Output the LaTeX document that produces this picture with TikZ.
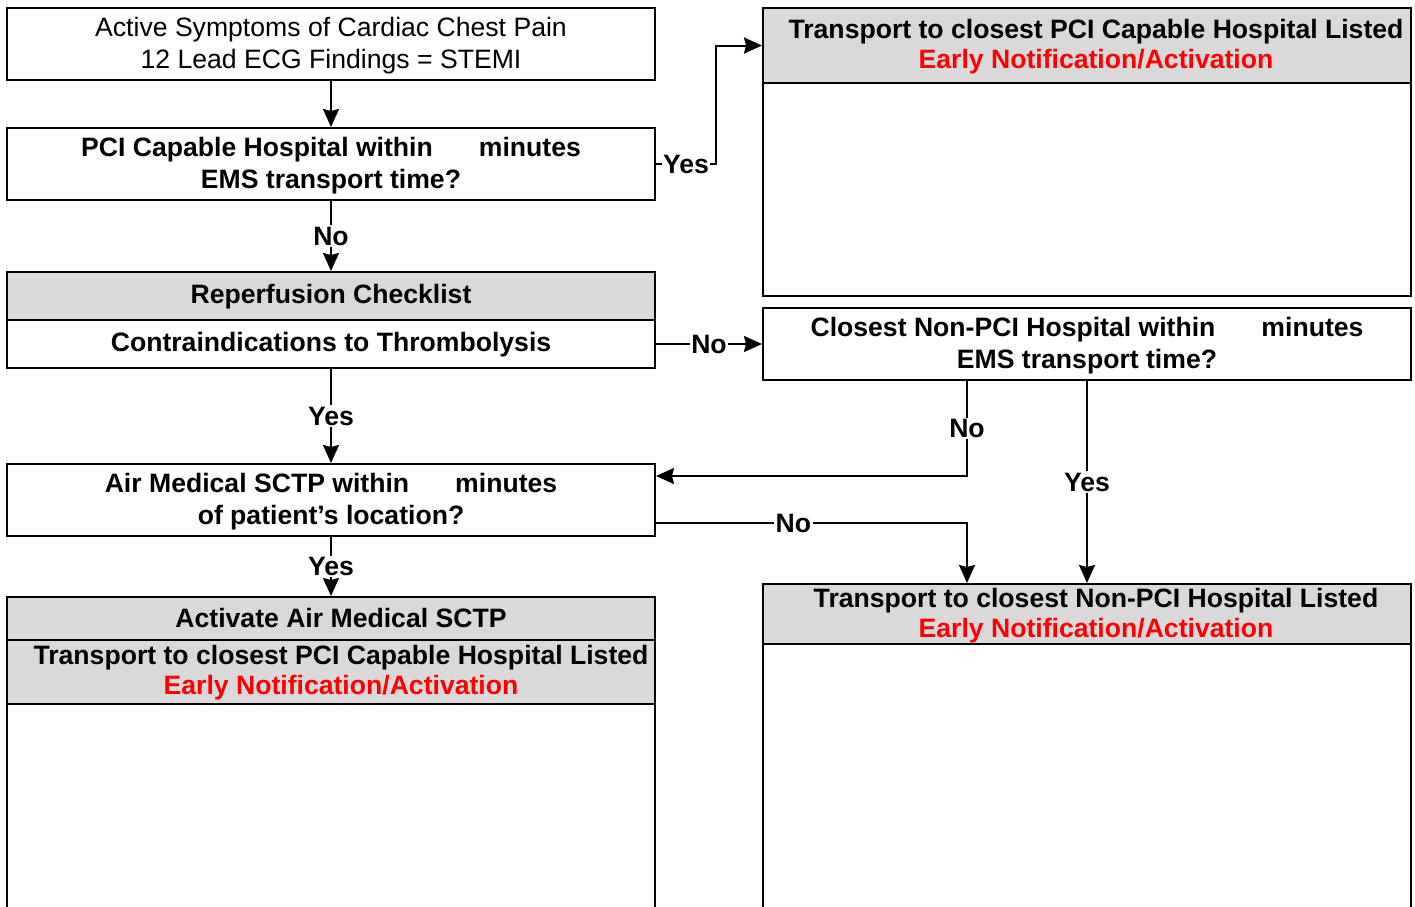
\documentclass[tikz,border=0pt]{standalone}
\usepackage{fontspec}
\setmainfont{Liberation Sans}
\usetikzlibrary{arrows.meta}
\definecolor{hdrgray}{HTML}{D9D9D9}
\definecolor{alertred}{HTML}{FF0000}
\begin{document}
\begin{tikzpicture}[x=1pt,y=-1pt,
  boxbase/.style={draw,line width=2pt,minimum width=648pt,inner sep=0pt},
  hdrbox/.style={boxbase,fill=hdrgray},
  bodybox/.style={boxbase,fill=white},
  plaintxt/.style={inner sep=0pt,align=center,font=\fontsize{26.6}{32}\selectfont},
  boldtxt/.style={inner sep=0pt,align=center,font=\bfseries\fontsize{26.6}{32}\selectfont},
  hdrtxt/.style={inner sep=0pt,align=center,font=\bfseries\fontsize{26.6}{30}\selectfont},
  lbl/.style={fill=white,inner sep=1.5pt,font=\bfseries\fontsize{26.6}{32}\selectfont},
  conn/.style={line width=2pt,-{Stealth[length=18pt,width=16pt,inset=2pt]}}
]
\useasboundingbox (0,0) rectangle (1415,906);
\clip (0,0) rectangle (1415,906);
\fill[white] (0,0) rectangle (1415,906);

% left column
\node[bodybox,minimum height=72pt] (A) at (331,44) {};
\node[plaintxt] (At) at (331,46) {Active Symptoms of Cardiac Chest Pain\\12 Lead ECG Findings = STEMI};
\node[bodybox,minimum height=72pt] (B) at (331,164) {};
\node[boldtxt] (Bt) at (331,166) {PCI Capable Hospital within\hspace{46pt}minutes\\EMS transport time?};
\node[hdrbox,minimum height=48pt] (Chdr) at (331,296) {};
\node[boldtxt] (Chdrt) at (331,297) {Reperfusion Checklist};
\node[bodybox,minimum height=48pt] (Cbody) at (331,344) {};
\node[boldtxt] (Cbodyt) at (331,345) {Contraindications to Thrombolysis};
\node[bodybox,minimum height=72pt] (D) at (331,500) {};
\node[boldtxt] (Dt) at (331,502) {Air Medical SCTP within\hspace{46pt}minutes\\of patient’s location?};
\node[bodybox,minimum height=230pt] (Ebody) at (331,819) {};
\node[hdrbox,minimum height=64pt] (E2) at (331,672) {};
\node[hdrbox,minimum height=43pt] (E1) at (331,618.5) {};
\node[hdrtxt] (E1t) at (341,618) {Activate Air Medical SCTP};
\node[hdrtxt] (E2t) at (341,673) {Transport to closest PCI Capable Hospital Listed\\\textcolor{alertred}{Early Notification/Activation}};

% right column
\node[bodybox,minimum height=213pt] (Fbody) at (1087,189.5) {};
\node[hdrbox,minimum height=75pt] (Fhdr) at (1087,45.5) {};
\node[hdrtxt] (Ft) at (1096,47) {Transport to closest PCI Capable Hospital Listed\\\textcolor{alertred}{Early Notification/Activation}};
\node[bodybox,minimum height=72pt] (G) at (1087,344) {};
\node[boldtxt] (Gt) at (1087,346) {Closest Non-PCI Hospital within\hspace{46pt}minutes\\EMS transport time?};
\node[bodybox,minimum height=290pt] (Hbody) at (1087,789) {};
\node[hdrbox,minimum height=60pt] (Hhdr) at (1087,614) {};
\node[hdrtxt] (Ht) at (1096,616) {Transport to closest Non-PCI Hospital Listed\\\textcolor{alertred}{Early Notification/Activation}};

% connectors
\draw[conn] (A.south) -- (B.north);
\draw[conn] (B.south) -- node[lbl]{No} (Chdr.north);
\draw[conn] (Cbody.south) -- node[lbl]{Yes} (D.north);
\draw[conn] (D.south) -- node[lbl]{Yes} (E1.north);
\draw[conn] (B.east) -- node[lbl]{Yes} ++(60,0) |- (Fhdr.west);
\draw[conn] (Cbody.east) -- node[lbl]{No} (G.west);

\coordinate (g1) at ([xshift=-120pt]G.south);
\coordinate (d1) at ([yshift=24pt]D.east);
\draw[conn] (g1) -- node[lbl]{No} (g1 |- d1) -- (d1);

\draw[conn] (G.south) -- node[lbl]{Yes} (Hhdr.north);

\coordinate (d2) at ([yshift=-23pt]D.east);
\coordinate (h1) at ([xshift=-120pt]Hhdr.north);
\draw[conn] (d2) -- node[lbl,pos=0.442]{No} (d2 -| h1) -- (h1);
\end{tikzpicture}
\end{document}
